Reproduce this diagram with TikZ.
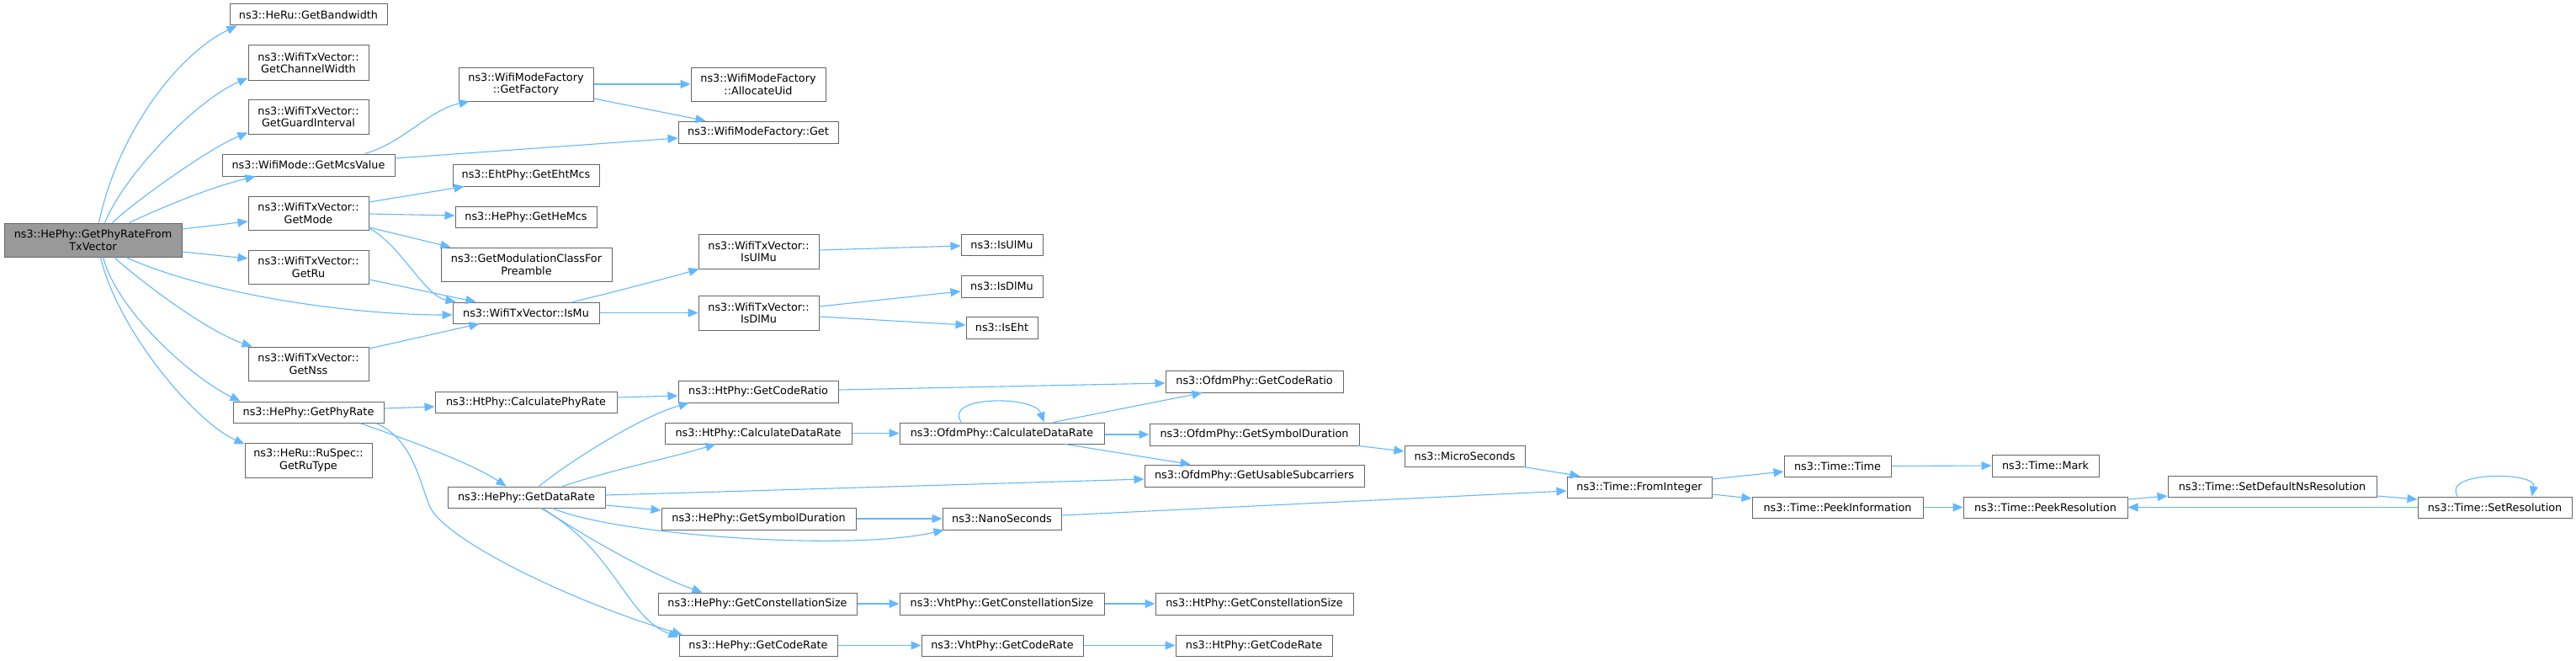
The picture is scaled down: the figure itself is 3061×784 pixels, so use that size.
\documentclass[tikz,border=0pt]{standalone}
\usepackage{fontspec}
\usetikzlibrary{arrows.meta}
\newfontfamily\dvs{DejaVu Sans}
\definecolor{edgeblue}{HTML}{63B8FF}
\definecolor{boxgray}{HTML}{666666}
\definecolor{rootfill}{HTML}{999999}
\tikzset{
  box/.style={draw=boxgray, line width=1pt, fill=white, inner sep=0pt, align=center,
    font=\dvs\fontsize{12.8}{14.5}\selectfont, text=black},
  rootbox/.style={box, fill=rootfill},
  edge/.style={draw=edgeblue, line width=1.1pt, -{Triangle[length=12pt,width=10pt]}}
}
\newcommand{\bx}[7][box]{\node[#1, minimum width={(#5-#3)*1pt}, minimum height={(#6-#4)*1pt}] (#2) at ({(#3+#5)/2},{(#4+#6)/2}) {#7};}
\begin{document}
\begin{tikzpicture}[x=1pt,y=-1pt]
\useasboundingbox (0,0) rectangle (3061,784);
% nodes
\bx[rootbox]{root}{5}{265}{216}{305}{ns3::HePhy::GetPhyRateFrom\\TxVector}
\bx{bw}{273}{5}{460}{30}{ns3::HeRu::GetBandwidth}
\bx{cw}{295}{54}{438}{95}{ns3::WifiTxVector::\\GetChannelWidth}
\bx{gi}{295}{118}{438}{159}{ns3::WifiTxVector::\\GetGuardInterval}
\bx{mcs}{264}{183}{469}{209}{ns3::WifiMode::GetMcsValue}
\bx{mode}{295}{233}{438}{273}{ns3::WifiTxVector::\\GetMode}
\bx{ru}{295}{297}{438}{337}{ns3::WifiTxVector::\\GetRu}
\bx{nss}{295}{412}{438}{452}{ns3::WifiTxVector::\\GetNss}
\bx{phy}{277}{477}{456}{502}{ns3::HePhy::GetPhyRate}
\bx{rut}{291}{526}{442}{567}{ns3::HeRu::RuSpec::\\GetRuType}
\bx{fac}{545}{80}{705}{120}{ns3::WifiModeFactory\\::GetFactory}
\bx{uid}{821}{80}{981}{120}{ns3::WifiModeFactory\\::AllocateUid}
\bx{mfget}{806}{144}{996}{170}{ns3::WifiModeFactory::Get}
\bx{eht}{538}{195}{712}{221}{ns3::EhtPhy::GetEhtMcs}
\bx{hemcs}{541}{245}{709}{270}{ns3::HePhy::GetHeMcs}
\bx{gmc}{524}{294}{727}{334}{ns3::GetModulationClassFor\\Preamble}
\bx{ismu}{538}{359}{712}{384}{ns3::WifiTxVector::IsMu}
\bx{txul}{830}{278}{973}{319}{ns3::WifiTxVector::\\IsUlMu}
\bx{txdl}{830}{351}{973}{392}{ns3::WifiTxVector::\\IsDlMu}
\bx{ul}{1142}{278}{1239}{303}{ns3::IsUlMu}
\bx{dl}{1142}{327}{1239}{353}{ns3::IsDlMu}
\bx{iseht}{1148}{376}{1233}{402}{ns3::IsEht}
\bx{cpr}{517}{465}{733}{490}{ns3::HtPhy::CalculatePhyRate}
\bx{htcr}{806}{452}{996}{478}{ns3::HtPhy::GetCodeRatio}
\bx{htcdr}{790}{502}{1012}{527}{ns3::HtPhy::CalculateDataRate}
\bx{gdr}{532}{578}{719}{603}{ns3::HePhy::GetDataRate}
\bx{hesd}{786}{603}{1017}{629}{ns3::HePhy::GetSymbolDuration}
\bx{hecs}{782}{704}{1018}{730}{ns3::HePhy::GetConstellationSize}
\bx{hecr}{807}{754}{995}{779}{ns3::HePhy::GetCodeRate}
\bx{ofcr}{1385}{440}{1596}{466}{ns3::OfdmPhy::GetCodeRatio}
\bx{ofcdr}{1069}{502}{1312}{527}{ns3::OfdmPhy::CalculateDataRate}
\bx{ofsd}{1366}{503}{1615}{529}{ns3::OfdmPhy::GetSymbolDuration}
\bx{ofus}{1360}{552}{1621}{578}{ns3::OfdmPhy::GetUsableSubcarriers}
\bx{nano}{1120}{603}{1261}{629}{ns3::NanoSeconds}
\bx{vhtcs}{1069}{704}{1312}{730}{ns3::VhtPhy::GetConstellationSize}
\bx{htcs}{1373}{704}{1608}{730}{ns3::HtPhy::GetConstellationSize}
\bx{vhtcr}{1095}{754}{1287}{779}{ns3::VhtPhy::GetCodeRate}
\bx{htcrate}{1397}{754}{1583}{779}{ns3::HtPhy::GetCodeRate}
\bx{micro}{1669}{529}{1812}{554}{ns3::MicroSeconds}
\bx{fromint}{1862}{566}{2034}{591}{ns3::Time::FromInteger}
\bx{ttime}{2120}{541}{2247}{566}{ns3::Time::Time}
\bx{peekinfo}{2082}{590}{2285}{615}{ns3::Time::PeekInformation}
\bx{mark}{2367}{540}{2494}{566}{ns3::Time::Mark}
\bx{peekres}{2333}{590}{2528}{615}{ns3::Time::PeekResolution}
\bx{setdef}{2576}{565}{2824}{590}{ns3::Time::SetDefaultNsResolution}
\bx{setres}{2873}{590}{3056}{615}{ns3::Time::SetResolution}
% edges from root
\draw[edge] ([xshift=113pt]root.north west) .. controls +(22,-105) and +(-72,35) .. ([xshift=9pt]bw.south west);
\draw[edge] ([xshift=120pt]root.north west) .. controls +(25,-60) and +(-60,26) .. ([yshift=3pt]cw.south west);
\draw[edge] ([xshift=129pt]root.north west) .. controls +(26,-25) and +(-45,18) .. ([yshift=2pt]gi.south west);
\draw[edge] ([xshift=149pt]root.north west) .. controls +(36,-17) and +(-54,13) .. ([xshift=40pt]mcs.south west);
\draw[edge] ([yshift=13pt]root.east) -- ([yshift=-10pt]mode.west);
\draw[edge] ([yshift=-14pt]root.east) -- ([yshift=10pt]ru.west);
\draw[edge] ([xshift=145pt]root.south west) .. controls +(100,45) and +(-118,0) .. ([yshift=-2.5pt]ismu.west);
\draw[edge] ([xshift=131pt]root.south west) .. controls +(39,35) and +(-50,-17) .. ([xshift=5pt]nss.north west);
\draw[edge] ([xshift=118pt]root.south west) .. controls +(17,65) and +(-56,-27) .. ([xshift=9pt]phy.north west);
\draw[edge] ([xshift=115pt]root.south west) .. controls +(20,85) and +(-61,-28) .. ([yshift=-2pt]rut.north west);
% second level
\draw[edge] ([xshift=170pt]mcs.north west) .. controls +(46,-13) and +(-48,10) .. ([xshift=13pt]fac.south west);
\draw[edge] ([yshift=8pt]mcs.east) -- ([yshift=-7pt]mfget.west);
\draw[edge] (fac.east) -- (uid.west);
\draw[edge] ([yshift=-17pt]fac.east) -- ([xshift=33pt]mfget.north west);
\draw[edge] ([yshift=13pt]mode.east) -- ([xshift=14pt]eht.south west);
\draw[edge] ([yshift=-1pt]mode.east) -- ([yshift=1.5pt]hemcs.west);
\draw[edge] ([yshift=-17pt]mode.east) -- ([xshift=12pt]gmc.north west);
\draw[edge] ([yshift=-18pt]mode.east) .. controls +(37,19) and +(-37,-7) .. ([xshift=4pt]ismu.north west);
\draw[edge] ([yshift=-15pt]ru.east) -- ([xshift=28pt]ismu.north west);
\draw[edge] ([yshift=18pt]nss.east) -- ([xshift=32pt]ismu.south west);
\draw[edge] ([xshift=143pt]ismu.north west) .. controls +(39,-9) and +(-31,9) .. ([xshift=1pt]txul.south west);
\draw[edge] (ismu.east) -- (txdl.west);
\draw[edge] ([yshift=1.5pt]txul.east) -- ([yshift=-1.5pt]ul.west);
\draw[edge] ([yshift=7.5pt]txdl.east) -- ([yshift=-6pt]dl.west);
\draw[edge] ([yshift=-4.5pt]txdl.east) -- ([yshift=3pt]iseht.west);
% GetPhyRate
\draw[edge] ([yshift=4.5pt]phy.east) -- ([yshift=-5.5pt]cpr.west);
\draw[edge] ([xshift=151pt]phy.south west) .. controls +(52,18) and +(-42,-28) .. ([xshift=70pt]gdr.north west);
\draw[edge] ([xshift=170pt]phy.south west) .. controls +(43,18) and +(-12,-30) .. (510,600) .. controls +(15,40) and +(-131,-39) .. ([xshift=4pt]hecr.north west);
\draw[edge] ([yshift=5.5pt]cpr.east) -- ([yshift=-5pt]htcr.west);
% GetDataRate
\draw[edge] ([xshift=109pt]gdr.north west) .. controls +(34,-28) and +(-59,17) .. ([xshift=13pt]htcr.south west);
\draw[edge] ([xshift=137pt]gdr.north west) .. controls +(60,-20) and +(-60,18) .. ([xshift=61pt]htcdr.south west);
\draw[edge] ([yshift=2.5pt]gdr.east) -- ([yshift=-4pt]ofus.west);
\draw[edge] ([yshift=-9.5pt]gdr.east) -- ([yshift=10pt]hesd.west);
\draw[edge] ([xshift=125pt]gdr.south west) .. controls +(73,32) and +(-112,26) .. ([xshift=2pt]nano.south west);
\draw[edge] ([xshift=113pt]gdr.south west) .. controls +(55,37) and +(-55,-19) .. ([xshift=53pt]hecs.north west);
\draw[edge] ([xshift=111pt]gdr.south west) .. controls +(87,47) and +(-62,-22) .. ([yshift=-3pt]hecr.north west);
\draw[edge] (htcdr.east) -- (ofcdr.west);
\draw[edge] ([xshift=74pt]ofcdr.north west) .. controls +(-23,-32) and +(-11,-32) .. ([xshift=172pt]ofcdr.north west);
\draw[edge] ([xshift=183pt]ofcdr.north west) -- ([xshift=44pt]ofcr.south west);
\draw[edge] ([yshift=-1.5pt]ofcdr.east) -- (ofsd.west);
\draw[edge] ([xshift=197pt]ofcdr.south west) -- ([xshift=55pt]ofus.north west);
\draw[edge] ([yshift=2pt]htcr.east) -- ([yshift=-2pt]ofcr.west);
\draw[edge] ([xshift=-1pt]ofsd.south east) -- ([yshift=5.5pt]micro.west);
\draw[edge] (hesd.east) -- (nano.west);
\draw[edge] ([yshift=4pt]nano.east) -- ([yshift=-4.5pt]fromint.west);
\draw[edge] ([xshift=-2pt]micro.south east) -- ([xshift=16pt]fromint.north west);
\draw[edge] ([yshift=9.5pt]fromint.east) -- ([yshift=-6.5pt]ttime.west);
\draw[edge] ([yshift=-8.5pt]fromint.east) -- ([yshift=10.5pt]peekinfo.west);
\draw[edge] (ttime.east) -- (mark.west);
\draw[edge] (peekinfo.east) -- (peekres.west);
\draw[edge] ([yshift=9.5pt]peekres.east) -- ([yshift=-11.5pt]setdef.west);
\draw[edge] ([yshift=-11.5pt]setdef.east) -- ([yshift=9.5pt]setres.west);
\draw[edge] (setres.west) -- (peekres.east);
\draw[edge] ([xshift=48pt]setres.north west) .. controls +(-21,-30) and +(6,-30) .. ([xshift=136pt]setres.north west);
\draw[edge] (hecs.east) -- (vhtcs.west);
\draw[edge] (vhtcs.east) -- (htcs.west);
\draw[edge] (hecr.east) -- (vhtcr.west);
\draw[edge] (vhtcr.east) -- (htcrate.west);
\end{tikzpicture}
\end{document}
